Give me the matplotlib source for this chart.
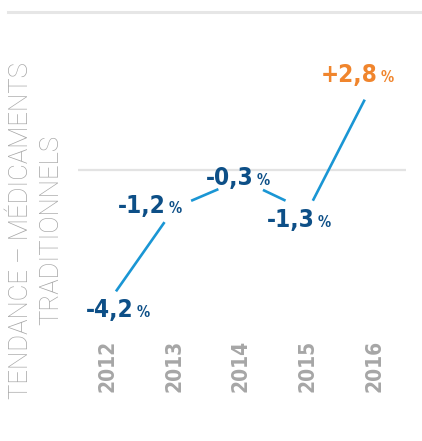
import numpy as np
import matplotlib
matplotlib.use('Agg')
import matplotlib.pyplot as plt
from matplotlib.lines import Line2D

# data
years = [2012, 2013, 2014, 2015, 2016]
values = [-4.2, -1.2, -0.3, -1.3, 2.8]
value_labels = ['-4,2', '-1,2', '-0,3', '-1,3', '+2,8']
ylabel_text = 'TENDANCE – MÉDICAMENTS\nTRADITIONNELS'

# style
line_col = '#1a96d4'
dark_blue = '#0d4f87'
orange = '#f0852d'
grey_tick = '#a6a6a6'
grey_lab = '#a6a6a6'
narrow = dict(family='DejaVu Sans', stretch='condensed', fontweight='bold')
# gaps cut out of each segment (fraction at start, fraction at end)
gaps = [(0.12, 0.15), (0.25, 0.34), (0.33, 0.33), (0.08, 0.14)]
# label offsets in points (right edge of number, baseline) from the point
offs = [(18.7, -10.4), (-6.5, -3.6), (9.4, -4.0), (5.0, -11.5), (2.9, -0.4)]

fig = plt.figure(figsize=(4.22, 4.41), dpi=100)
ax = fig.add_axes([0.1848, 0.2404, 0.7773, 0.6916])
ax.set_xlim(2011.549, 2016.481)
ax.set_ylim(-5.22, 4.43)
for s in ax.spines.values():
    s.set_visible(False)
ax.set_yticks([])
ax.axhline(0, color='#e3e3e3', lw=1.6, zorder=0)

# gapped line
for i in range(len(years) - 1):
    x0, x1 = years[i], years[i + 1]
    y0, y1 = values[i], values[i + 1]
    a, b = gaps[i]
    xs = [x0 + (x1 - x0) * a, x1 - (x1 - x0) * b]
    ys = [y0 + (y1 - y0) * a, y1 - (y1 - y0) * b]
    ax.plot(xs, ys, color=line_col, lw=1.9, solid_capstyle='butt')

for i, (x, v, lab) in enumerate(zip(years, values, value_labels)):
    col = orange if v > 0 else dark_blue
    dx, dy = offs[i]
    ax.annotate(lab, (x, v), xytext=(dx, dy), textcoords='offset points',
                ha='right', va='baseline', color=col, fontsize=17.5, **narrow)
    ax.annotate('%', (x, v), xytext=(dx + 2.2, dy), textcoords='offset points',
                ha='left', va='baseline', color=col, fontsize=10.5, **narrow)

ax.set_xticks(years)
ax.set_xticklabels([str(y) for y in years], rotation=90, color=grey_tick,
                   fontsize=15, **narrow)
ax.tick_params(axis='x', length=0, pad=3.5)

fig.text(36 / 422, 0.478, ylabel_text, rotation=90, ha='center', va='center',
         multialignment='center', color=grey_lab, fontsize=18.5,
         fontweight='light', family=['Roboto', 'DejaVu Sans'], linespacing=1.3)

fig.add_artist(Line2D([8 / 422, 1], [1 - 12 / 441, 1 - 12 / 441],
                      color='#e6e6e6', lw=2.2, transform=fig.transFigure))

fig.savefig('out.png', dpi=100)
